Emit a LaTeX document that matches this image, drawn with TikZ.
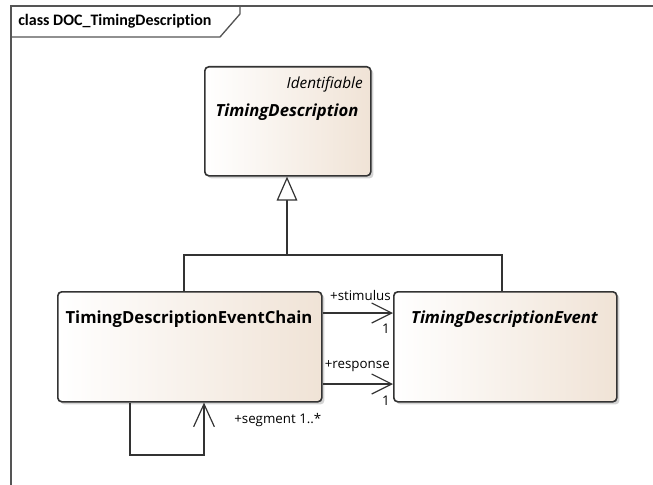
\documentclass[tikz,border=0pt]{standalone}
\usepackage{fontspec}
\setmainfont{Open Sans}
\newfontfamily\framefont[RawFeature={-liga;-clig;-calt;-dlig}]{Carlito}
\usetikzlibrary{arrows.meta,shadows}
\definecolor{lineC}{HTML}{333333}
\definecolor{boxR}{HTML}{F0E3D6}
\definecolor{frameC}{HTML}{555555}
\tikzset{
  umlbox/.style={draw=lineC, line width=1.2pt, rounded corners=3pt,
    left color=white, right color=boxR, anchor=north west, inner sep=0pt,
    drop shadow={shadow xshift=2pt, shadow yshift=-2pt, opacity=0.35, fill=gray}},
  conn/.style={draw=lineC, line width=0.9pt},
  gen/.style={conn, -{Triangle[open, length=18pt, width=15.5pt, fill=white]}},
  assoc/.style={conn, -{Straight Barb[length=15pt, width=15pt, line width=0.9pt]}},
  assocbig/.style={conn, -{Straight Barb[length=17pt, width=15.5pt, line width=0.9pt]}},
  title/.style={font=\fontsize{12.5}{14}\selectfont\bfseries, inner sep=0pt},
  role/.style={font=\fontsize{10}{12}\selectfont, inner sep=0pt, text=black},
}
\begin{document}
\begin{tikzpicture}[x=0.75pt, y=-0.75pt]
\useasboundingbox (0,0) rectangle (653,485);
% frame
\draw[frameC, line width=1pt] (11,485) -- (11,6) -- (653,6);
\draw[frameC, line width=1pt] (11,37) -- (220,37) -- (240,14) -- (240,6);
\node[font=\framefont\fontsize{12}{14}\selectfont\bfseries, anchor=west, inner sep=0pt] (fl) at (18,21) {class DOC\_TimingDescrip\kern0pt tion};
% boxes
\node[umlbox, minimum width=124.5pt, minimum height=81.75pt] (td) at (204,66) {};
\node[umlbox, minimum width=198pt, minimum height=82.5pt] (chain) at (57,291) {};
\node[umlbox, minimum width=167.25pt, minimum height=82.5pt] (tde) at (393,291) {};
% texts
\node[font=\fontsize{11.5}{13}\selectfont\itshape, anchor=east, inner sep=0pt] (tdst) at (363,84) {Identifiable};
\node[title, font=\fontsize{12.5}{14}\selectfont\bfseries\itshape] (tdt) at (287,112) {TimingDescription};
\node[title] (chaint) at (189,319) {TimingDescriptionEventChain};
\node[title, font=\fontsize{12.5}{14}\selectfont\bfseries\itshape] (tdet) at (504.5,319) {TimingDescriptionEvent};
% generalization
\coordinate (j) at (287,255);
\coordinate (jl) at (184,255);
\coordinate (jr) at (502,255);
\draw[conn] (chain.north -| jl) -- (jl) -- (jr) -- (tde.north -| jr);
\draw[gen] (j) -- (td.south -| j);
% associations
\coordinate (s1) at (0,313);
\coordinate (r1) at (0,384);
\draw[assoc] (chain.east |- s1) -- (tde.west |- s1);
\draw[assoc] (chain.east |- r1) -- (tde.west |- r1);
\node[role, anchor=east] (sl) at (391,295) {+stimulus};
\node[role] (sm) at (386,329) {1};
\node[role, anchor=east] (rl) at (390,366) {+response};
\node[role] (rm) at (386,401) {1};
% self loop
\coordinate (la) at (130,455);
\coordinate (lb) at (204,455);
\draw[assocbig] (chain.south -| la) -- (la) -- (lb) -- (chain.south -| lb);
\node[role, anchor=west] (segl) at (234,420) {+segment 1..*};
\end{tikzpicture}
\end{document}
